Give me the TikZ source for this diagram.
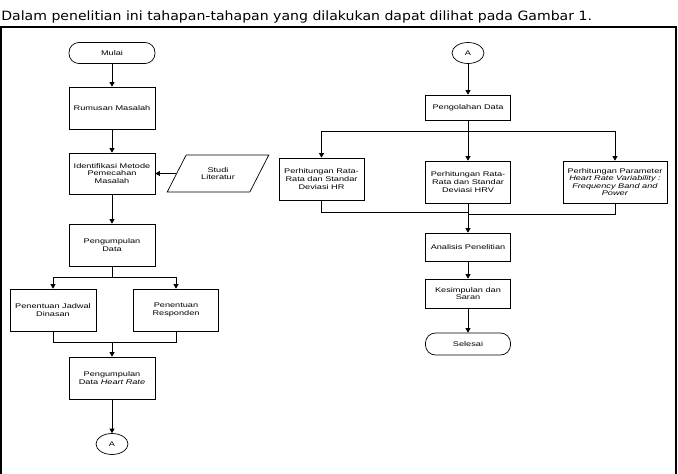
\documentclass[tikz,border=0pt]{standalone}
\usepackage{fontspec}
\setmainfont{DejaVu Sans}
\newfontfamily\headfont[FakeStretch=1.1]{DejaVu Sans}
\newfontfamily\boxfont[FakeStretch=1.35]{Liberation Sans}
\usetikzlibrary{arrows.meta,shapes.geometric}

\begin{document}
\begin{tikzpicture}[x=1pt, y=-1pt, line width=0.7pt,
  arr/.style={-{Triangle[length=4.5pt,width=5pt]}},
  proc/.style={draw, rectangle, minimum width=86, inner sep=1pt, align=center,
    font=\boxfont\fontsize{6.8}{7.6}\selectfont},
  term/.style={proc, rounded corners=10, minimum height=21},
  conn/.style={draw, ellipse, minimum width=32, minimum height=21, inner sep=0pt,
    font=\boxfont\fontsize{6.8}{7.6}\selectfont},
  io/.style={draw, trapezium, trapezium left angle=54, trapezium right angle=126,
    trapezium stretches=true, minimum width=102, minimum height=37, inner sep=1pt,
    align=center, font=\boxfont\fontsize{6.8}{7.6}\selectfont}]
  \useasboundingbox (0,0) rectangle (678,474);
  % heading and frame
  \node[anchor=base west, inner sep=0pt, font=\headfont\fontsize{12.8}{14}\selectfont] (judul) at (1,20)
    {Dalam penelitian ini tahapan-tahapan yang dilakukan dapat dilihat pada Gambar 1.};
  \draw[line width=1.2pt] (1,474) -- (1,27) -- (676,27) -- (676,474);

  % left column
  \node[term] (mulai) at (112,53) {Mulai};
  \node[proc, minimum height=42] (rumusan) at (112,108) {Rumusan Masalah};
  \node[proc, minimum height=41] (identifikasi) at (112,173.5) {Identifikasi Metode\\Pemecahan\\Masalah};
  \node[io] (studi) at (218,173.5) {Studi\\Literatur};
  \node[proc, minimum height=42] (kumpul) at (112,245) {Pengumpulan\\Data};
  \node[proc, minimum height=42] (jadwal) at (53,310) {Penentuan Jadwal\\Dinasan};
  \node[proc, minimum height=42, minimum width=85] (responden) at (176,310) {Penentuan\\Responden};
  \node[proc, minimum height=42] (hr) at (112,378) {Pengumpulan\\Data \textit{Heart Rate}};
  \node[conn] (conA) at (112,444) {A};

  \coordinate (split1) at (112,277);
  \coordinate (join1) at (112,342);
  \draw[arr] (mulai) -- (rumusan);
  \draw[arr] (rumusan) -- (identifikasi);
  \draw[arr] (studi) -- (identifikasi);
  \draw[arr] (identifikasi) -- (kumpul);
  \draw (kumpul) -- (split1);
  \draw[arr] (split1) -| (jadwal);
  \draw[arr] (split1) -| (responden);
  \draw (jadwal) |- (join1);
  \draw (responden) |- (join1);
  \draw[arr] (join1) -- (hr);
  \draw[arr] (hr) -- (conA);

  % right column
  \node[conn] (conB) at (468,53) {A};
  \node[proc, minimum height=25, minimum width=85] (olah) at (468,107.5) {Pengolahan Data};
  \node[proc, minimum height=42, minimum width=85] (ratahr) at (321.5,179) {Perhitungan Rata-\\Rata dan Standar\\Deviasi HR};
  \node[proc, minimum height=42, minimum width=85] (ratahrv) at (468,182) {Perhitungan Rata-\\Rata dan Standar\\Deviasi HRV};
  \node[proc, minimum height=42, minimum width=104] (param) at (615,182)
    {Perhitungan Parameter\\\textit{Heart Rate Variability :}\\\textit{Frequency Band and}\\\textit{Power}};
  \node[proc, minimum height=28, minimum width=85] (analisis) at (468,247) {Analisis Penelitian};
  \node[proc, minimum height=29, minimum width=85] (simpul) at (468,293.5) {Kesimpulan dan\\Saran};
  \node[term, minimum height=22, minimum width=85] (selesai) at (468,344) {Selesai};

  \coordinate (split2) at (468,131);
  \coordinate (joinl) at (468,212);
  \coordinate (joinr) at (468,214);
  \draw[arr] (conB) -- (olah);
  \draw[arr] (olah) -- (ratahrv);
  \draw[arr] (split2) -| (ratahr);
  \draw[arr] (split2) -| (param);
  \draw (ratahr) |- (joinl);
  \draw (param) |- (joinr);
  \draw[arr] (ratahrv) -- (analisis);
  \draw[arr] (analisis) -- (simpul);
  \draw[arr] (simpul) -- (selesai);
\end{tikzpicture}
\end{document}
